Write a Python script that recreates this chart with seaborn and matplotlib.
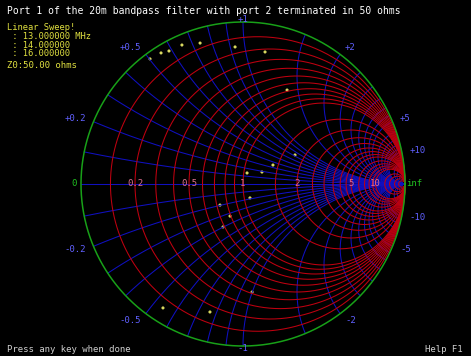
import numpy as np
import pandas as pd
import seaborn as sns
import matplotlib.pyplot as plt

sns.set_theme(style='dark')
plt.rcParams['font.family'] = ['DejaVu Sans Mono']

# grid values of the chart
r_values = [0.1, 0.2, 0.3, 0.4, 0.5, 0.6, 0.7, 0.8, 0.9, 1.0,
            1.5, 2, 2.5, 3, 3.5, 4, 4.5, 5, 6, 7, 8, 9, 10, 15, 20, 30, 50]
x_values = [0.1, 0.2, 0.3, 0.4, 0.5, 0.6, 0.7, 0.8, 0.9, 1.0,
            1.5, 2, 2.5, 3, 3.5, 4, 4.5, 5, 6, 7, 8, 9, 10, 15, 20, 30, 50]

r_labels = ['0.2', '0.5', '1', '2', '5', '10']
x_labels = [0.2, 0.5, 1, 2, 5, 10]

# measured reflection coefficient points (real, imag)
trace_re = [-0.574, -0.506, -0.457, -0.377, -0.265, -0.049, 0.136, 0.272,
            0.321, 0.185, 0.117, 0.025, 0.043, -0.080, -0.142, -0.123,
            0.056, -0.204, -0.494]
trace_im = [0.772, 0.809, 0.821, 0.858, 0.870, 0.846, 0.815, 0.580,
            0.179, 0.117, 0.074, 0.068, -0.086, -0.198, -0.130, -0.265,
            -0.667, -0.790, -0.765]

title = 'Port 1 of the 20m bandpass filter with port 2 terminated in 50 ohms'
sweep = ['Linear Sweep!', ' : 13.000000 MHz', ' : 14.000000', ' : 16.000000']
z0_text = 'Z0:50.00 ohms'


def gamma(z):
    return (z - 1) / (z + 1)


t = np.linspace(-np.pi / 2 * 0.9995, np.pi / 2 * 0.9995, 600)
s = np.linspace(0, np.pi / 2 * 0.9995, 400)
rows = []
for r in r_values:
    g = gamma(r + 1j * np.tan(t))
    rows.append(pd.DataFrame({'re': g.real, 'im': g.imag, 'kind': 'r',
                              'curve': f'r{r}'}))
for x in x_values:
    for sign in (1, -1):
        g = gamma(np.tan(s) + 1j * sign * x)
        rows.append(pd.DataFrame({'re': g.real, 'im': g.imag, 'kind': 'x',
                                  'curve': f'x{sign * x}'}))
rows.append(pd.DataFrame({'re': [-1, 1], 'im': [0, 0], 'kind': 'x',
                          'curve': 'x0'}))
th = np.linspace(0, 2 * np.pi, 500)
rows.append(pd.DataFrame({'re': np.cos(th), 'im': np.sin(th), 'kind': 'edge',
                          'curve': 'edge'}))
grid = pd.concat(rows, ignore_index=True)

fig = plt.figure(figsize=(4.71, 3.56), dpi=100, facecolor='black')
ax = fig.add_axes([0, 0, 1, 1])
ax.set_facecolor('black')

sns.lineplot(data=grid[grid.kind == 'x'], x='re', y='im', units='curve',
             estimator=None, sort=False, color='#1010c0', lw=0.75, ax=ax)
sns.lineplot(data=grid[grid.kind == 'r'], x='re', y='im', units='curve',
             estimator=None, sort=False, color='#c00010', lw=0.75, ax=ax)
sns.lineplot(data=grid[grid.kind == 'edge'], x='re', y='im', units='curve',
             estimator=None, sort=False, color='#18a018', lw=1.1, ax=ax)

pts = pd.DataFrame({'re': trace_re, 'im': trace_im})
sns.scatterplot(data=pts, x='re', y='im', color='#d8d860', s=5,
                edgecolor='none', ax=ax)

# labels
for lab in r_labels:
    v = float(lab)
    ax.text(gamma(v), 0, lab, color='#e07090', fontsize=6.5,
            ha='center', va='center')
ax.text(-1.04, 0, '0', color='#20c020', fontsize=6.5, ha='center',
        va='center')
ax.text(1.01, 0, 'inf', color='#20c020', fontsize=6.5, ha='left',
        va='center')

for x in x_labels:
    for sign in (1, -1):
        g = gamma(1j * sign * x)
        if g.real < -0.1:
            ha = 'right'
            g = g * 1.05
        elif g.real > 0.1:
            ha = 'left'
            g = g * 1.05
        else:
            ha = 'center'
            g = g * 1.015
        txt = ('+' if sign > 0 else '-') + f'{x:g}'
        ax.text(g.real, g.imag, txt, color='#6060ff', fontsize=6.5,
                ha=ha, va='center')

fig.text(7 / 471, 1 - 11 / 356, title, color='white', fontsize=7,
         va='center')
for i, line in enumerate(sweep):
    fig.text(7 / 471, 1 - (28 + i * 8.5) / 356, line, color='#e0e040',
             fontsize=6.3, va='center')
fig.text(7 / 471, 1 - 65 / 356, z0_text, color='#e0e040', fontsize=6.5,
         va='center')
fig.text(7 / 471, 1 - 350 / 356, 'Press any key when done', color='#d0d0d0',
         fontsize=6.5, va='center')
fig.text(425 / 471, 1 - 350 / 356, 'Help F1', color='#d0d0d0',
         fontsize=6.5, va='center')

ax.set_xlim(-243 / 162, 228 / 162)
ax.set_ylim(-172 / 162, 184 / 162)
ax.set_axis_off()
if ax.get_legend():
    ax.get_legend().remove()

fig.savefig('out.png', dpi=100, facecolor='black')
